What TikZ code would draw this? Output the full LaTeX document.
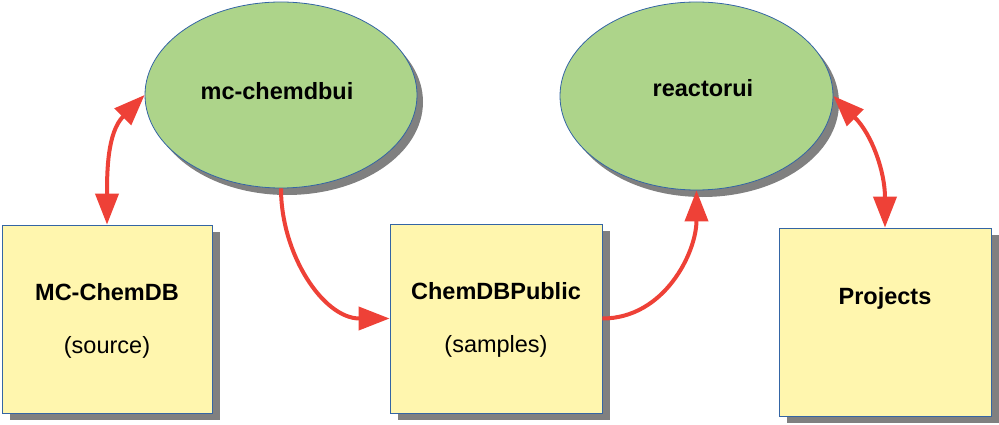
\documentclass[tikz,border=0pt]{standalone}
\usepackage{fontspec}
\setmainfont{Liberation Sans}
\usetikzlibrary{shapes.geometric,shadows,arrows.meta}
\definecolor{ellgreen}{HTML}{ADD48A}
\definecolor{boxyellow}{HTML}{FFF6AE}
\definecolor{edgeblue}{HTML}{3465A4}
\definecolor{arrred}{HTML}{EE4137}
\definecolor{shadowgray}{HTML}{808080}
\tikzset{
  ellnode/.style={ellipse, draw=edgeblue, line width=0.8pt, fill=ellgreen, inner sep=0pt,
    drop shadow={shadow xshift=6pt, shadow yshift=-7pt, fill=shadowgray, opacity=1}},
  boxnode/.style={rectangle, draw=edgeblue, line width=0.8pt, fill=boxyellow, inner sep=0pt,
    drop shadow={shadow xshift=8pt, shadow yshift=-7pt, fill=shadowgray, opacity=1}},
  titletext/.style={anchor=base, font=\fontsize{23.5}{28}\selectfont\bfseries, inner sep=0pt},
  subtext/.style={anchor=base, font=\fontsize{23.5}{28}\selectfont, inner sep=0pt},
  bigtip/.tip={Triangle[length=31pt 0 0,width=23pt 0 0]},
  conn/.style={draw=arrred, line width=4pt, arrows={-bigtip}},
  biconn/.style={draw=arrred, line width=4pt, arrows={bigtip-bigtip}}
}
\begin{document}
\begin{tikzpicture}[x=1pt,y=1pt]
\useasboundingbox (0,0) rectangle (999,-425);
% nodes
\node[ellnode, minimum width=272pt, minimum height=186pt] (ui1) at (281,-95) {};
\node[ellnode, minimum width=273pt, minimum height=188pt] (ui2) at (696.5,-96) {};
\node[boxnode, minimum width=210pt, minimum height=188pt] (src) at (107,-319) {};
\node[boxnode, minimum width=212pt, minimum height=189pt] (pub) at (496,-318.5) {};
\node[boxnode, minimum width=212pt, minimum height=188pt] (proj) at (885,-322) {};
% texts
\node[titletext] (t1) at (277,-100) {mc-chemdbui};
\node[titletext] (t2) at (703,-97) {reactorui};
\node[titletext] (t3) at (107,-300) {MC-ChemDB};
\node[subtext] (t4) at (107,-353) {(source)};
\node[titletext] (t5) at (496,-299) {ChemDBPublic};
\node[subtext] (t6) at (496,-352) {(samples)};
\node[titletext] (t7) at (885,-304) {Projects};
% connectors
\draw[biconn] (src.north) to[out=90, in=-135] (ui1.west);
\draw[conn] (ui1.south) to[out=-90, in=180] (pub.west);
\draw[conn] (pub.east) to[out=0, in=-90] (ui2.south);
\draw[biconn] (proj.north) to[out=90, in=-45] (ui2.east);
\end{tikzpicture}
\end{document}
